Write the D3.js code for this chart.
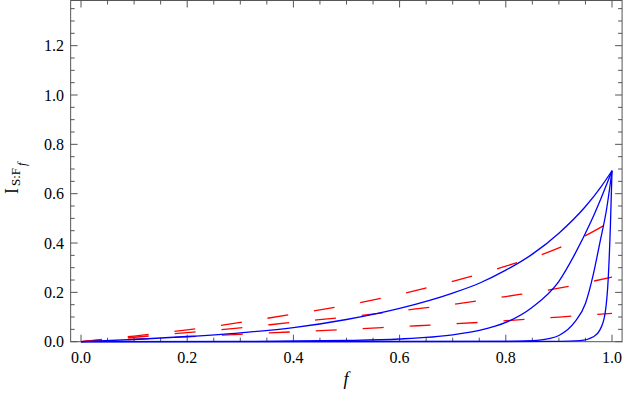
<!DOCTYPE html>
<html>
<head>
<meta charset="utf-8">
<script src="https://cdn.jsdelivr.net/npm/d3@7"></script>
<style>
  body { margin: 0; background: #fff; }
  svg { display: block; }
</style>
</head>
<body>
<div class="wrapper"></div>
<script>
// blue solid curves, [f, I] pairs
var blue1 = [[0,0],[0.1,0.009],[0.2,0.021],[0.3,0.036],[0.4,0.057],[0.5,0.09],[0.6,0.135],[0.7,0.197],
             [0.75,0.237],[0.8,0.29],[0.85,0.355],[0.9,0.44],[0.95,0.548],[0.98,0.63],[1.0,0.693]];
var blue2 = [[0,0],[0.3,0.001],[0.5,0.005],[0.6,0.011],[0.7,0.028],[0.75,0.046],[0.8,0.078],[0.85,0.14],
             [0.9,0.245],[0.93,0.355],[0.96,0.485],[0.98,0.585],[1.0,0.693]];
var blue3 = [[0,0],[0.8,0.001],[0.85,0.004],[0.88,0.012],[0.9,0.025],[0.93,0.08],[0.95,0.155],[0.965,0.275],
             [0.977,0.40],[0.99,0.54],[1.0,0.693]];
var blue4 = [[0,0],[0.9,0.001],[0.94,0.004],[0.965,0.02],[0.977,0.047],[0.987,0.115],[0.993,0.26],
             [0.997,0.47],[1.0,0.693]];

// red dashed curves
var red1 = [[0,0],[0.1,0.023],[0.2,0.048],[0.3,0.078],[0.4,0.112],[0.5,0.148],[0.6,0.192],[0.7,0.245],
            [0.8,0.306],[0.9,0.38],[0.95,0.43],[1.0,0.49]];
var red2 = [[0,0],[0.1,0.018],[0.2,0.037],[0.3,0.056],[0.4,0.079],[0.5,0.1],[0.6,0.125],[0.7,0.151],
            [0.8,0.183],[0.9,0.217],[1.0,0.262]];
var red3 = [[0,0],[0.1,0.01],[0.2,0.02],[0.3,0.03],[0.4,0.04],[0.5,0.05],[0.6,0.061],[0.7,0.072],
            [0.8,0.085],[0.9,0.1],[1.0,0.115]];

var xTickLabels = ["0.0", "0.2", "0.4", "0.6", "0.8", "1.0"];
var yTickLabels = ["0.0", "0.2", "0.4", "0.6", "0.8", "1.0", "1.2"];

var width = 623, height = 393;
var serif = '"Liberation Serif", "Times New Roman", serif';
var x = d3.scaleLinear().domain([0, 1]).range([81, 612]);
var y = d3.scaleLinear().domain([0, 1]).range([341.7, 95]);
var xMin = -0.0195, xMax = 1.019, yMin = 0, yMax = 1.383;

var svg = d3.select(".wrapper").append("svg")
    .attr("width", width)
    .attr("height", height);

var frameColor = "#555";

// frame
svg.append("rect")
    .attr("x", x(xMin)).attr("y", y(yMax))
    .attr("width", x(xMax) - x(xMin))
    .attr("height", y(yMin) - y(yMax))
    .attr("fill", "none")
    .attr("stroke", frameColor)
    .attr("stroke-width", 1);

// ticks (inside frame, on all four sides)
var xMinor = d3.range(0, 1.0001, 0.05);
var yMinor = d3.range(0, 1.3501, 0.05);
function isMajor(v) { return Math.abs(v * 5 - Math.round(v * 5)) < 1e-6; }

var tickG = svg.append("g").attr("stroke", frameColor).attr("stroke-width", 1);
xMinor.forEach(function(v) {
    var len = isMajor(v) ? 7 : 4;
    tickG.append("line").attr("x1", x(v)).attr("x2", x(v))
        .attr("y1", y(yMin)).attr("y2", y(yMin) - len);
    tickG.append("line").attr("x1", x(v)).attr("x2", x(v))
        .attr("y1", y(yMax)).attr("y2", y(yMax) + len);
});
yMinor.forEach(function(v) {
    var len = isMajor(v) ? 7 : 4;
    tickG.append("line").attr("y1", y(v)).attr("y2", y(v))
        .attr("x1", x(xMin)).attr("x2", x(xMin) + len);
    tickG.append("line").attr("y1", y(v)).attr("y2", y(v))
        .attr("x1", x(xMax)).attr("x2", x(xMax) - len);
});

// tick labels
svg.selectAll(".xlab").data(xTickLabels).enter().append("text")
    .attr("class", "xlab")
    .attr("x", function(d) { return x(+d); })
    .attr("y", 363)
    .attr("text-anchor", "middle")
    .style("font-family", serif)
    .style("font-size", "16px")
    .text(function(d) { return d; });

svg.selectAll(".ylab").data(yTickLabels).enter().append("text")
    .attr("class", "ylab")
    .attr("x", 64)
    .attr("y", function(d) { return y(+d) + 5.5; })
    .attr("text-anchor", "end")
    .style("font-family", serif)
    .style("font-size", "16px")
    .text(function(d) { return d; });

// curves
var line = d3.line()
    .x(function(d) { return x(d[0]); })
    .y(function(d) { return y(d[1]); })
    .curve(d3.curveMonotoneX);

var plot = svg.append("g");
[red1, red2, red3].forEach(function(s) {
    plot.append("path").datum(s)
        .attr("d", line)
        .attr("fill", "none")
        .attr("stroke", "#ff0000")
        .attr("stroke-width", 1.3)
        .attr("stroke-dasharray", "21,26");
});
[blue1, blue2, blue3, blue4].forEach(function(s) {
    plot.append("path").datum(s)
        .attr("d", line)
        .attr("fill", "none")
        .attr("stroke", "#0000ff")
        .attr("stroke-width", 1.3);
});

// axis labels
svg.append("text")
    .attr("x", 346).attr("y", 385)
    .attr("text-anchor", "middle")
    .style("font-family", serif)
    .style("font-size", "18px")
    .style("font-style", "italic")
    .text("f");

var yl = svg.append("text")
    .attr("transform", "translate(18,194) rotate(-90)")
    .style("font-family", serif)
    .style("font-size", "18px");
yl.append("tspan").text("I");
yl.append("tspan").attr("dx", 2).attr("dy", 2).style("font-size", "13px").text("S:F");
yl.append("tspan").attr("dx", 2).attr("dy", 6).style("font-size", "12px").style("font-style", "italic").text("f");
</script>
</body>
</html>
